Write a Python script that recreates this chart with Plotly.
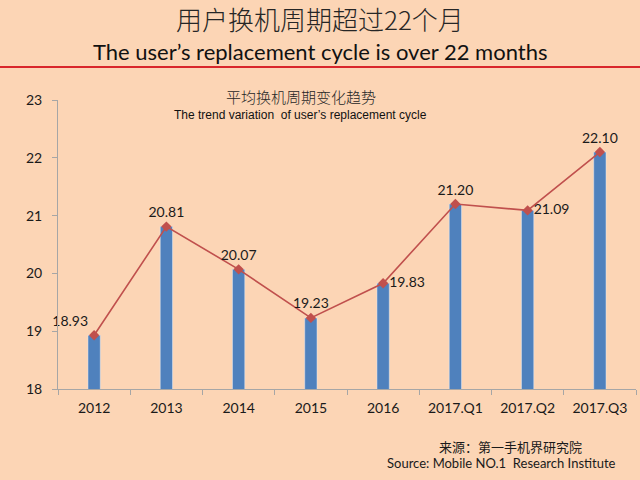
import plotly.graph_objects as go

categories = ["2012", "2013", "2014", "2015", "2016", "2017.Q1", "2017.Q2", "2017.Q3"]
values = [18.93, 20.81, 20.07, 19.23, 19.83, 21.20, 21.09, 22.10]
labels = ["18.93", "20.81", "20.07", "19.23", "19.83", "21.20", "21.09", "22.10"]
label_pos = ["top left", "top center", "top center", "top center",
             "middle right", "top center", "middle right", "top center"]
y_ticks = [18, 19, 20, 21, 22, 23]

BG = "#FCD5B5"
FONT = "Lato, 'Open Sans', 'Noto Sans CJK SC', sans-serif"
CJK = "'Noto Sans CJK SC', sans-serif"

L, T, B = 58, 100, 91
PH = 480 - T - B
PW = 640 - L - 4


def px(x):
    return (x - L) / PW


def py(y):
    return (480 - B - y) / PH


fig = go.Figure()
fig.add_trace(go.Bar(x=categories, y=values, marker_color="#4F81BD",
                     width=0.17, showlegend=False, hoverinfo="skip"))
fig.add_trace(go.Scatter(x=categories, y=values, mode="lines+markers+text",
                         line=dict(color="#C0504D", width=1.6),
                         marker=dict(symbol="diamond", size=8, color="#C0504D"),
                         text=labels, textposition=label_pos,
                         textfont=dict(size=14, color="#1a1a1a", family=FONT),
                         showlegend=False, cliponaxis=False))

fig.update_layout(
    width=640, height=480,
    paper_bgcolor=BG, plot_bgcolor=BG,
    margin=dict(l=L, r=4, t=T, b=B),
    font=dict(family=FONT, color="#1a1a1a"),
    xaxis=dict(type="category", showline=True, linecolor="#A6A6A6", linewidth=1,
               ticks="outside", ticklen=5, tickcolor="#A6A6A6", tickson="boundaries",
               tickfont=dict(size=14), showgrid=False, zeroline=False,
               ticklabelstandoff=6),
    yaxis=dict(range=[18, 23], tickvals=y_ticks, showline=True, linecolor="#A6A6A6",
               linewidth=1, ticks="outside", ticklen=5, tickcolor="#A6A6A6",
               tickfont=dict(size=14), showgrid=False, zeroline=False, ticklabelstandoff=7),
    shapes=[dict(type="line", xref="paper", yref="paper", x0=-0.2, x1=1.2,
                 y0=py(67), y1=py(67), line=dict(color="#D9262B", width=2))],
    annotations=[
        dict(text="用户换机周期超过22个月", xref="paper", yref="paper",
             x=px(320), y=py(19), xanchor="center", yanchor="middle", showarrow=False,
             font=dict(size=26, family=CJK, color="#262626", weight=300)),
        dict(text="The user’s replacement cycle is over 22 months", xref="paper", yref="paper",
             x=px(320), y=py(52), xanchor="center", yanchor="middle", showarrow=False,
             font=dict(size=22, family=FONT, color="#111111")),
        dict(text="平均换机周期变化趋势", xref="paper", yref="paper",
             x=px(301), y=py(96), xanchor="center", yanchor="middle", showarrow=False,
             font=dict(size=15, family=CJK, color="#262626", weight=300)),
        dict(text="The trend variation  of user’s replacement cycle", xref="paper", yref="paper",
             x=px(300), y=py(115), xanchor="center", yanchor="middle", showarrow=False,
             font=dict(size=12, family="'Liberation Sans Narrow', 'Liberation Sans', sans-serif",
                       color="#111111")),
        dict(text="来源：第一手机界研究院", xref="paper", yref="paper",
             x=px(437), y=py(446), xanchor="left", yanchor="middle", showarrow=False,
             font=dict(size=13, family=CJK, color="#1a1a1a")),
        dict(text="Source: Mobile NO.1  Research Institute", xref="paper", yref="paper",
             x=px(618), y=py(463), xanchor="right", yanchor="middle", showarrow=False,
             font=dict(size=13, family=FONT, color="#1a1a1a")),
    ],
)

fig.write_html("out.html", config={"displayModeBar": False},
               post_script="document.body.style.margin='0';"
                           "document.body.style.background='#FCD5B5';")
